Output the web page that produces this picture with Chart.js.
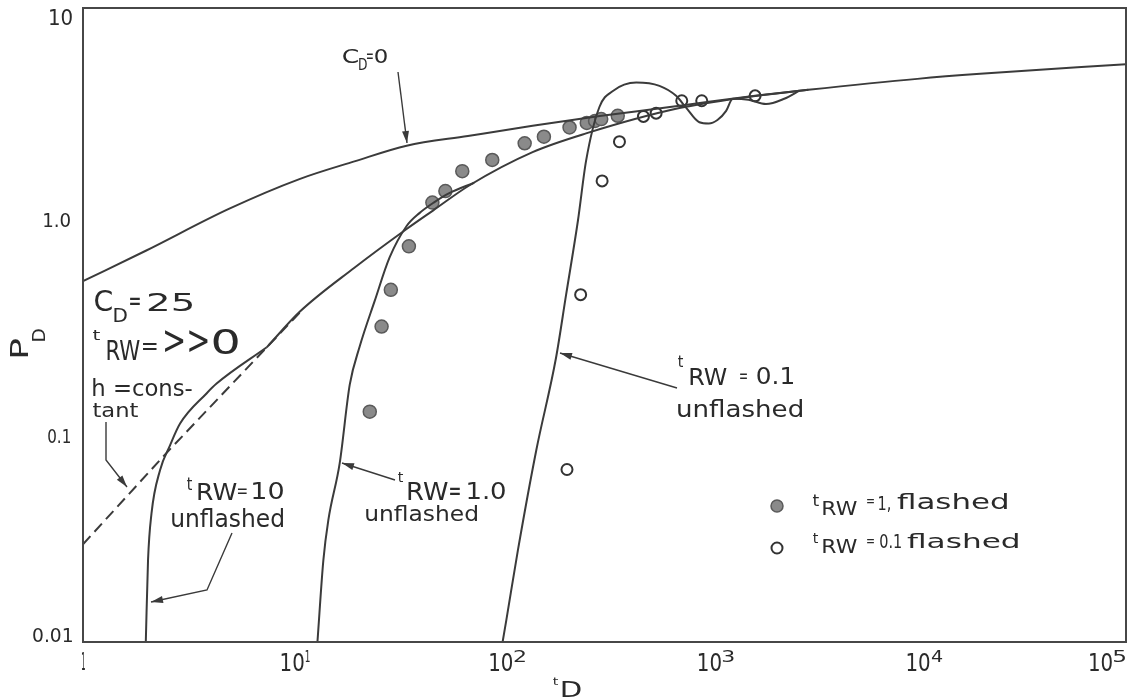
<!DOCTYPE html>
<html>
<head>
<meta charset="utf-8">
<script src="https://cdn.jsdelivr.net/npm/chart.js@4.4.1/dist/chart.umd.min.js"></script>
<style>
  html, body { margin: 0; padding: 0; background: #fff; }
</style>
</head>
<body>
<canvas id="chart" width="1134" height="697"></canvas>
<script>
// axis ticks (base, superscript)
const xTicks = [1, 10, 100, 1000, 10000, 100000];
const xTickBase = ['1', '10', '10', '10', '10', '10'];
const xTickSup = ['', '1', '2', '3', '4', '5'];
const yTicks = [0.01, 0.1, 1, 10];
const yTickLabels = ['0.01', '0.1', '1.0', '10'];

// C_D = 0
const cd0T = [1, 2, 5, 10.9, 20, 35.6, 70, 143, 300, 624, 1000, 1667, 3000, 10000, 20000, 100000];
const cd0P = [0.51, 0.71, 1.12, 1.55, 1.88, 2.23, 2.48, 2.77, 3.08, 3.38, 3.6, 3.84, 4.1, 4.62, 4.88, 5.42];

// C_D = 25, tRW >> 0 (joins tRW = 10 curve)
const cd25T = [7.6, 10.9, 20, 35.6, 47.6, 71.3, 143, 258, 723, 1500, 3000];
const cd25P = [0.248, 0.364, 0.59, 0.9, 1.1, 1.45, 2.08, 2.55, 3.36, 3.78, 4.1];

// h = constant (dashed)
const hConstT = [1, 2.53, 11];
const hConstP = [0.029, 0.079, 0.364];

// tRW = 10 unflashed
const rw10T = [2.0, 2.05, 2.13, 2.34, 2.61, 2.92, 3.91, 4.37, 7.6];
const rw10P = [0.01, 0.0244, 0.0406, 0.065, 0.085, 0.108, 0.15, 0.167, 0.248];

// tRW = 1.0 unflashed
const rw1T = [13.3, 14.2, 15.0, 17.0, 19.0, 21.2, 25, 29.5, 35.6, 41, 48, 57, 75];
const rw1P = [0.01, 0.0244, 0.0377, 0.07, 0.165, 0.25, 0.41, 0.66, 0.93, 1.07, 1.2, 1.33, 1.49];

// tRW = 0.1 unflashed
const rw01T = [102.7, 107, 121.6, 149, 185, 207, 236, 258, 299, 347, 449, 580, 697, 778, 901, 1000, 1100, 1211, 1303, 1550, 1880, 2300, 2716];
const rw01P = [0.01, 0.0127, 0.0272, 0.081, 0.22, 0.44, 0.99, 1.89, 3.4, 4.05, 4.44, 4.28, 3.84, 3.38, 2.88, 2.84, 2.95, 3.26, 3.72, 3.68, 3.51, 3.72, 4.06];

// tRW = 1, flashed (filled)
const flash1T = [23.7, 27.0, 29.9, 36.5, 47.3, 54.6, 65.8, 91.6, 131, 162, 215, 260, 285, 305, 366];
const flash1P = [0.123, 0.311, 0.464, 0.745, 1.2, 1.36, 1.69, 1.91, 2.29, 2.46, 2.72, 2.86, 2.92, 2.98, 3.09];

// tRW = 0.1, flashed (open)
const flash01T = [209, 243, 308, 373, 486, 559, 742, 925, 1667];
const flash01P = [0.0655, 0.44, 1.52, 2.33, 3.07, 3.18, 3.64, 3.64, 3.84];

const FONT = '"DejaVu Sans", sans-serif';
const INK = '#2a2a2a';
const LINE = '#3b3b3b';

const pts = (ts, ps) => ts.map((t, i) => ({ x: t, y: ps[i] }));

function curve(ts, ps, extra) {
    return Object.assign({
        data: pts(ts, ps),
        showLine: true,
        borderColor: LINE,
        borderWidth: 2,
        pointRadius: 0,
        fill: false,
        cubicInterpolationMode: 'monotone'
    }, extra || {});
}

// text pieces: [text, ink box x0, y0, x1, y1]
const notes = [
    ['C', [343, 47, 358, 63]], ['D', [359, 58, 367, 70]], ['=', [367, 52, 373, 58]], ['0', [375, 47, 387, 63]],
    ['C', [95, 290, 112, 312]], ['D', [114, 308, 127, 322]], ['=', [130, 297, 140, 305]], ['25', [148, 292, 192, 312]],
    ['t', [93, 330, 100, 340]], ['RW', [107, 340, 140, 360]], ['=', [143, 343, 157, 350]], ['>>', [165, 330, 208, 353]], ['0', [213, 328, 238, 355]],
    ['h =cons-', [93, 378, 192, 397]], ['tant', [93, 402, 138, 417]],
    ['t', [187, 477, 192, 490]], ['RW', [198, 483, 237, 500]], ['=', [238, 487, 247, 493]], ['10', [253, 482, 283, 500]], ['unflashed', [172, 508, 283, 528]],
    ['t', [398, 472, 403, 482]], ['RW', [408, 482, 448, 500]], ['=', [450, 487, 460, 495]], ['1.0', [468, 482, 505, 500]], ['unflashed', [366, 505, 477, 522]],
    ['t', [678, 355, 683, 367]], ['RW', [690, 368, 727, 385]], ['=', [740, 372, 747, 378]], ['0.1', [757, 367, 793, 385]], ['unflashed', [678, 400, 802, 418]],
    ['t', [813, 495, 819, 506]], ['RW', [823, 500, 857, 515]], ['=', [867, 498, 874, 503]], ['1,', [879, 495, 890, 512]], ['flashed', [897, 493, 1007, 510]],
    ['t', [813, 533, 818, 543]], ['RW', [823, 538, 857, 553]], ['=', [867, 538, 874, 543]], ['0.1', [880, 532, 901, 548]], ['flashed', [907, 532, 1018, 548]],
    ['t', [553, 677, 558, 685]], ['D', [562, 681, 581, 697]]
];

// arrows, last point is the tip
const arrows = [
    [[398, 72], [407, 143]],
    [[106, 422], [106, 460], [127, 487]],
    [[232, 533], [207, 590], [151, 602]],
    [[395, 480], [342, 463]],
    [[677, 388], [560, 353]]
];

function fitText(ctx, text, box) {
    const [x0, y0, x1, y1] = box;
    ctx.font = '40px ' + FONT;
    const m = ctx.measureText(text);
    const w = m.actualBoundingBoxLeft + m.actualBoundingBoxRight;
    const h = m.actualBoundingBoxAscent + m.actualBoundingBoxDescent;
    const sx = (x1 - x0) / w, sy = (y1 - y0) / h;
    ctx.save();
    ctx.translate(x0 + m.actualBoundingBoxLeft * sx, y0 + m.actualBoundingBoxAscent * sy);
    ctx.scale(sx, sy);
    ctx.fillText(text, 0, 0);
    ctx.restore();
}

const decorations = {
    id: 'decorations',
    afterDatasetsDraw(chart) {
        const ctx = chart.ctx;
        const a = chart.chartArea;
        const sx = chart.scales.x, sy = chart.scales.y;
        ctx.save();
        // frame
        ctx.strokeStyle = '#474747';
        ctx.lineWidth = 2;
        ctx.strokeRect(a.left, a.top, a.right - a.left, a.bottom - a.top);

        ctx.fillStyle = INK;
        ctx.textAlign = 'left';
        ctx.textBaseline = 'alphabetic';

        // x tick labels at the scale's tick positions
        sx.ticks.forEach((tk, i) => {
            let px = sx.getPixelForValue(tk.value);
            if (i === 0) {
                fitText(ctx, xTickBase[i], [px - 1, 652, px + 2, 670]);
                return;
            }
            if (px + 33 > chart.width) px = chart.width - 34;
            fitText(ctx, xTickBase[i], [px - 10, 652, px + 12, 672]);
            fitText(ctx, xTickSup[i], [px + 14, 650, px + (xTickSup[i] === '1' ? 18 : 25), 662]);
        });
        // y tick labels at the scale's tick positions
        const yBox = [[33, -15, 72, 0], [48, -3, 70, 13], [44, -8, 70, 8], [50, 1, 72, 18]];
        sy.ticks.forEach((tk, i) => {
            const py = sy.getPixelForValue(tk.value);
            const b = yBox[i];
            fitText(ctx, yTickLabels[i], [b[0], py + b[1], b[2], py + b[3]]);
        });

        notes.forEach(n => fitText(ctx, n[0], n[1]));

        // y title P_D, rotated
        ctx.save();
        ctx.translate(0, 400);
        ctx.rotate(-Math.PI / 2);
        fitText(ctx, 'P', [43, 10, 61, 28]);
        fitText(ctx, 'D', [59, 32, 71, 45]);
        ctx.restore();

        // arrows
        ctx.strokeStyle = '#3a3a3a';
        ctx.lineWidth = 1.4;
        arrows.forEach(path => {
            ctx.beginPath();
            path.forEach((p, i) => i ? ctx.lineTo(p[0], p[1]) : ctx.moveTo(p[0], p[1]));
            ctx.stroke();
            const [px, py] = path[path.length - 2];
            const [tx, ty] = path[path.length - 1];
            const ang = Math.atan2(ty - py, tx - px);
            ctx.save();
            ctx.translate(tx, ty);
            ctx.rotate(ang);
            ctx.beginPath();
            ctx.moveTo(0, 0);
            ctx.lineTo(-12, -3.5);
            ctx.lineTo(-12, 3.5);
            ctx.closePath();
            ctx.fillStyle = '#3a3a3a';
            ctx.fill();
            ctx.restore();
        });

        // legend symbols
        ctx.beginPath();
        ctx.arc(777, 506, 6, 0, Math.PI * 2);
        ctx.fillStyle = '#8a8a8a';
        ctx.fill();
        ctx.strokeStyle = '#5a5a5a';
        ctx.lineWidth = 1.5;
        ctx.stroke();
        ctx.beginPath();
        ctx.arc(777, 548, 5.5, 0, Math.PI * 2);
        ctx.fillStyle = '#fff';
        ctx.fill();
        ctx.strokeStyle = '#333';
        ctx.lineWidth = 2;
        ctx.stroke();
        ctx.restore();
    }
};

new Chart(document.getElementById('chart').getContext('2d'), {
    type: 'scatter',
    data: {
        datasets: [
            curve(cd0T, cd0P),
            curve(cd25T, cd25P),
            curve(rw10T, rw10P),
            curve(rw1T, rw1P),
            curve(rw01T, rw01P),
            curve(hConstT, hConstP, { borderDash: [11, 6], cubicInterpolationMode: 'default', tension: 0 }),
            {
                data: pts(flash1T, flash1P),
                pointRadius: 6.5,
                pointBackgroundColor: '#8a8a8a',
                pointBorderColor: '#5a5a5a',
                pointBorderWidth: 1.5
            },
            {
                data: pts(flash01T, flash01P),
                pointRadius: 5.5,
                pointBackgroundColor: '#ffffff',
                pointBorderColor: '#333333',
                pointBorderWidth: 2
            }
        ]
    },
    options: {
        responsive: false,
        animation: false,
        layout: { padding: { top: 7, right: 7, left: 0, bottom: 0 } },
        plugins: {
            legend: { display: false },
            tooltip: { enabled: false }
        },
        scales: {
            x: {
                type: 'logarithmic',
                min: 1,
                max: 100000,
                grid: { display: false, drawTicks: false },
                border: { display: false },
                afterBuildTicks: (s) => { s.ticks = xTicks.map(v => ({ value: v })); },
                afterFit: (s) => { s.height = 55; s.paddingLeft = 0; s.paddingRight = 0; },
                ticks: { display: false }
            },
            y: {
                type: 'logarithmic',
                min: 0.01,
                max: 10,
                grid: { display: false, drawTicks: false },
                border: { display: false },
                afterBuildTicks: (s) => { s.ticks = yTicks.map(v => ({ value: v })); },
                afterFit: (s) => { s.width = 83; s.paddingTop = 0; s.paddingBottom = 0; },
                ticks: { display: false }
            }
        }
    },
    plugins: [decorations]
});
</script>
</body>
</html>
